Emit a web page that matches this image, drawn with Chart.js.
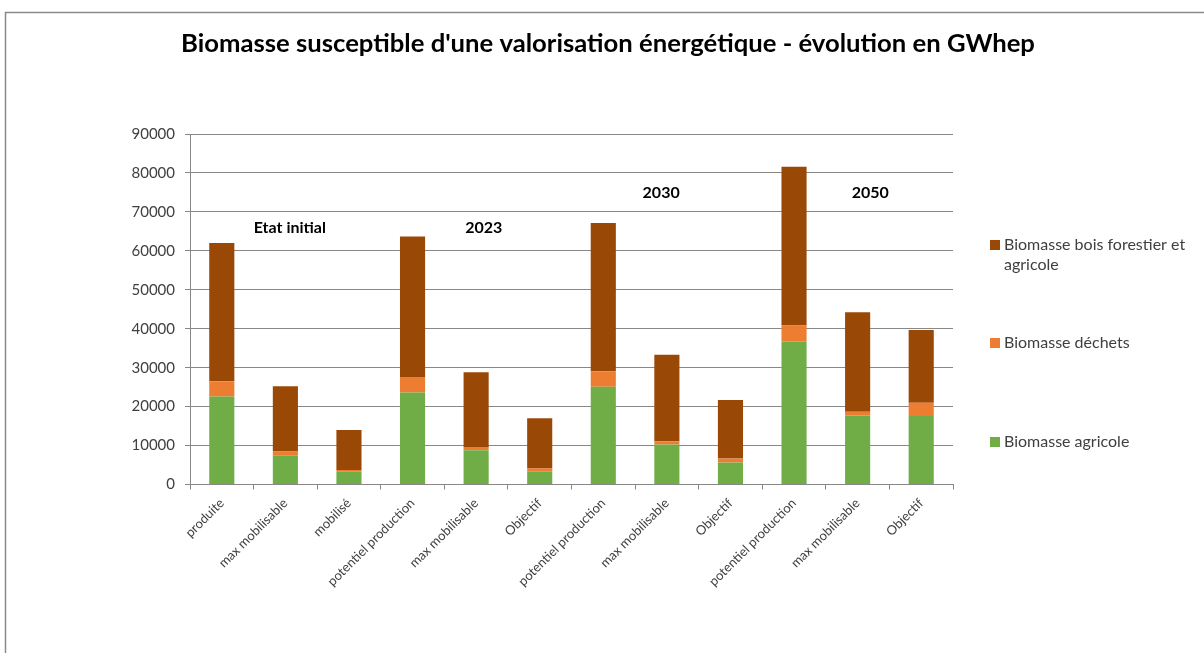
<!DOCTYPE html>
<html>
<head>
<meta charset="utf-8">
<script src="https://cdn.jsdelivr.net/npm/chart.js@4.4.1/dist/chart.umd.min.js"></script>
<style>
  html, body { margin: 0; padding: 0; background: #ffffff; }
  #wrap { width: 1204px; height: 653px; position: relative; }
</style>
</head>
<body>
<div id="wrap"><canvas id="c" width="1204" height="653"></canvas></div>
<script>
const title = "Biomasse susceptible d'une valorisation énergétique - évolution en GWhep";
const categories = ['produite', 'max mobilisable', 'mobilisé', 'potentiel production', 'max mobilisable', 'Objectif', 'potentiel production', 'max mobilisable', 'Objectif', 'potentiel production', 'max mobilisable', 'Objectif'];
const seriesNames = ['Biomasse agricole', 'Biomasse déchets', 'Biomasse bois forestier et agricole'];
const agricole = [22600, 7400, 3300, 23600, 8800, 3250, 25100, 10250, 5650, 36700, 17700, 17600];
const dechets = [3900, 1100, 450, 4000, 800, 850, 3950, 850, 1000, 4100, 1000, 3400];
const bois = [35500, 16700, 10250, 36100, 19200, 12900, 38100, 22200, 15050, 40800, 25550, 18650];
const groupLabels = ['Etat initial', '2023', '2030', '2050'];
const yTicks = [0, 10000, 20000, 30000, 40000, 50000, 60000, 70000, 80000, 90000];

const FONT = "Lato, 'Open Sans', 'DejaVu Sans', sans-serif";
const TEXT = '#404040';
const GRID = '#888888';

// positions of the free text boxes (category index, value)
const groupPos = [[1.07, 65800], [4.12, 65800], [6.91, 75000], [10.2, 75000]];

const decor = {
  id: 'decor',
  beforeDraw(chart) {
    const ctx = chart.ctx;
    ctx.save();
    ctx.fillStyle = '#ffffff';
    ctx.fillRect(0, 0, chart.width, chart.height);
    ctx.strokeStyle = '#8a8a8a';
    ctx.lineWidth = 1.5;
    ctx.beginPath();
    ctx.moveTo(5.5, chart.height);
    ctx.lineTo(5.5, 12.5);
    ctx.lineTo(chart.width, 12.5);
    ctx.stroke();
    ctx.restore();
  },
  afterDraw(chart) {
    const ctx = chart.ctx;
    const xs = chart.scales.x, ys = chart.scales.y;
    ctx.save();
    // title, sized to the reference width
    ctx.fillStyle = '#000000';
    ctx.font = "bold 22px " + FONT;
    const w22 = ctx.measureText(title).width;
    const size = Math.min(28, 22 * 854 / w22);
    ctx.font = "bold " + size.toFixed(2) + "px " + FONT;
    ctx.textAlign = 'center';
    ctx.textBaseline = 'middle';
    ctx.fillText(title, 608, 44);
    // group labels
    ctx.font = "bold 16px " + FONT;
    groupLabels.forEach((g, i) => {
      const [ci, v] = groupPos[i];
      ctx.fillText(g, xs.getPixelForValue(ci), ys.getPixelForValue(v));
    });
    // legend (reverse order)
    ctx.font = "16px " + FONT;
    ctx.textAlign = 'left';
    const items = [
      { ds: 2, lines: ['Biomasse bois forestier et', 'agricole'], y: 245 },
      { ds: 1, lines: [seriesNames[1]], y: 343 },
      { ds: 0, lines: [seriesNames[0]], y: 442 }
    ];
    items.forEach(it => {
      const ds = chart.data.datasets[it.ds];
      ctx.fillStyle = ds.backgroundColor;
      ctx.fillRect(990, it.y - 5, 10, 10);
      ctx.fillStyle = TEXT;
      it.lines.forEach((l, k) => ctx.fillText(l, 1004, it.y + k * 20));
    });
    ctx.restore();
  }
};

new Chart(document.getElementById('c'), {
  type: 'bar',
  data: {
    labels: categories,
    datasets: [
      { label: seriesNames[0], data: agricole, backgroundColor: '#70AD47' },
      { label: seriesNames[1], data: dechets, backgroundColor: '#ED7D31' },
      { label: seriesNames[2], data: bois, backgroundColor: '#9A4806' }
    ]
  },
  options: {
    responsive: false,
    animation: false,
    devicePixelRatio: 1,
    layout: { padding: { left: 0, top: 134, right: 251, bottom: 0 } },
    plugins: {
      legend: { display: false },
      title: { display: false },
      tooltip: { enabled: false }
    },
    datasets: { bar: { categoryPercentage: 1, barPercentage: 0.395 } },
    scales: {
      x: {
        stacked: true,
        offset: true,
        border: { color: GRID, width: 1 },
        grid: { display: true, drawOnChartArea: false, drawTicks: true, tickLength: 5, color: GRID, offset: true },
        ticks: { color: TEXT, font: { family: FONT, size: 13 }, maxRotation: 45, minRotation: 45, autoSkip: false, padding: 6 },
        afterFit(s) { s.height = 653 - 484.5; }
      },
      y: {
        stacked: true,
        min: 0, max: 90000,
        afterBuildTicks(s) { s.ticks = yTicks.map(v => ({ value: v })); },
        border: { color: GRID, width: 1 },
        grid: { color: GRID, tickLength: 5, drawTicks: true },
        ticks: { color: TEXT, font: { family: FONT, size: 15 }, padding: 10, callback: v => String(v) },
        afterFit(s) { s.width = 190; }
      }
    }
  },
  plugins: [decor]
});
</script>
</body>
</html>
